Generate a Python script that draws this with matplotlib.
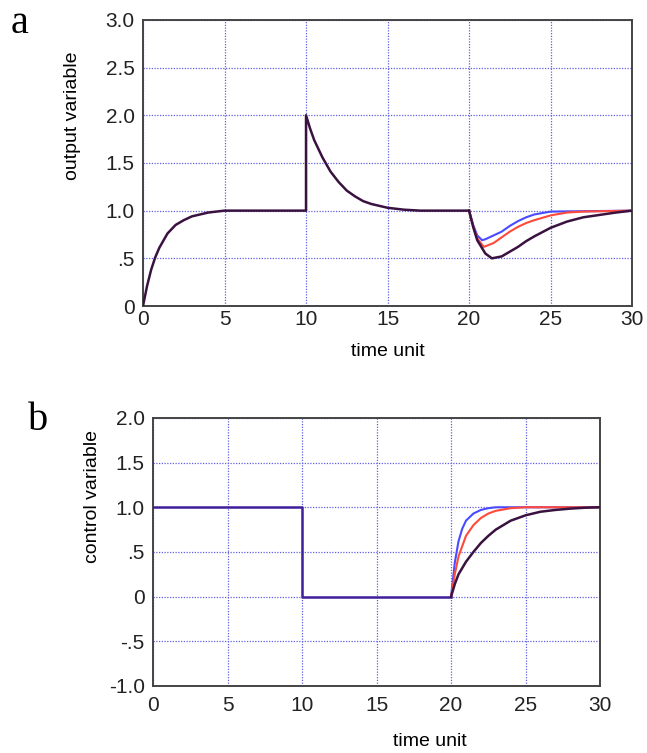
import matplotlib.pyplot as plt

# --- a: output variable (shared part, then three responses after t=20)
t_common = [0, 0.25, 0.5, 0.75, 1, 1.5, 2, 2.5, 3, 3.5, 4, 5, 10,
            10, 10.25, 10.5, 11, 11.5, 12, 12.5, 13, 13.5, 14, 15, 16, 17, 20]
y_common = [0, 0.21, 0.38, 0.51, 0.61, 0.76, 0.85, 0.90, 0.94, 0.96, 0.98, 1.0, 1.0,
            2.0, 1.86, 1.74, 1.56, 1.41, 1.30, 1.21, 1.15, 1.10, 1.07, 1.03, 1.01, 1.0, 1.0]

t_out_blue = [20, 20.25, 20.5, 20.8, 21, 21.5, 22, 22.5, 23, 23.5, 24, 25, 30]
y_out_blue = [1.0, 0.85, 0.74, 0.69, 0.70, 0.74, 0.78, 0.84, 0.89, 0.93, 0.96, 0.99, 1.0]
t_out_red = [20, 20.25, 20.5, 20.9, 21.5, 22, 22.5, 23, 23.5, 24, 25, 26, 27, 30]
y_out_red = [1.0, 0.84, 0.71, 0.62, 0.66, 0.72, 0.78, 0.83, 0.87, 0.90, 0.95, 0.98, 0.99, 1.0]
t_out_dark = [20, 20.25, 20.5, 21, 21.4, 22, 22.5, 23, 23.5, 24, 25, 26, 27, 28, 29, 30]
y_out_dark = [1.0, 0.83, 0.69, 0.55, 0.50, 0.52, 0.57, 0.62, 0.68, 0.73, 0.82, 0.885, 0.93, 0.955, 0.98, 1.0]

# --- b: control variable
t_ctl_common = [0, 10, 10, 20]
u_ctl_common = [1.0, 1.0, 0.0, 0.0]
t_ctl_blue = [20, 20.25, 20.5, 20.75, 21, 21.5, 22, 22.5, 23, 30]
u_ctl_blue = [0, 0.38, 0.62, 0.76, 0.85, 0.93, 0.97, 0.99, 1.0, 1.0]
t_ctl_red = [20, 20.25, 20.5, 21, 21.5, 22, 22.5, 23, 24, 25, 30]
u_ctl_red = [0, 0.25, 0.45, 0.68, 0.80, 0.88, 0.93, 0.96, 0.99, 1.0, 1.0]
t_ctl_dark = [20, 20.25, 20.5, 21, 21.5, 22, 22.5, 23, 24, 25, 26, 27, 28, 29, 30]
u_ctl_dark = [0, 0.14, 0.25, 0.39, 0.50, 0.60, 0.68, 0.75, 0.85, 0.91, 0.95, 0.97, 0.985, 0.995, 1.0]

xticks = [0, 5, 10, 15, 20, 25, 30]
yticks_a = [0, 0.5, 1.0, 1.5, 2.0, 2.5, 3.0]
ylabels_a = ["0", ".5", "1.0", "1.5", "2.0", "2.5", "3.0"]
yticks_b = [-1.0, -0.5, 0, 0.5, 1.0, 1.5, 2.0]
ylabels_b = ["-1.0", "-.5", "0", ".5", "1.0", "1.5", "2.0"]

BLUE = "#4a4aff"
RED = "#ff4a3a"
DARK = "#3a1240"
GRID = "#6060e0"

plt.rcParams["font.family"] = ["Liberation Sans", "DejaVu Sans"]

fig = plt.figure(figsize=(6.47, 7.53), dpi=100)
ax1 = fig.add_axes([0.221, 0.5936, 0.756, 0.380])
ax2 = fig.add_axes([0.2365, 0.089, 0.691, 0.356])


def style(ax, yt, yl, ylim):
    ax.set_xlim(0, 30)
    ax.set_ylim(*ylim)
    ax.set_xticks(xticks)
    ax.set_xticklabels([str(v) for v in xticks])
    ax.set_yticks(yt)
    ax.set_yticklabels(yl)
    ax.tick_params(length=0, labelsize=15, colors="#222222")
    ax.grid(True, color=GRID, linestyle=(0, (1, 1.2)), linewidth=0.9)
    for s in ax.spines.values():
        s.set_color("#444444")
        s.set_linewidth(1.4)


# panel a
ax1.plot(t_common, y_common, color=DARK, lw=1.8, zorder=4)
ax1.plot(t_out_blue, y_out_blue, color=BLUE, lw=1.5, zorder=3)
ax1.plot(t_out_red, y_out_red, color=RED, lw=1.5, zorder=3)
ax1.plot(t_out_dark, y_out_dark, color=DARK, lw=1.8, zorder=4)
style(ax1, yticks_a, ylabels_a, (0, 3.0))
ax1.tick_params(axis="x", pad=3)
ax1.tick_params(axis="y", pad=6)
ax1.set_xlabel("time unit", fontsize=14, labelpad=10)
ax1.set_ylabel("output variable", fontsize=14, va="center")
ax1.yaxis.set_label_coords(-0.145, 0.664)

# panel b
ax2.plot(t_ctl_common, u_ctl_common, color="#40209a", lw=1.8, zorder=4)
ax2.plot(t_ctl_blue, u_ctl_blue, color=BLUE, lw=1.5, zorder=3)
ax2.plot(t_ctl_red, u_ctl_red, color=RED, lw=1.5, zorder=3)
ax2.plot(t_ctl_dark, u_ctl_dark, color=DARK, lw=1.8, zorder=4)
style(ax2, yticks_b, ylabels_b, (-1.0, 2.0))
ax2.tick_params(axis="x", pad=7)
ax2.tick_params(axis="y", pad=6)
ax2.set_ylabel("control variable", fontsize=14, va="center")
ax2.yaxis.set_label_coords(-0.136, 0.705)
fig.text(430 / 647, 1 - 742 / 753, "time unit", fontsize=14, ha="center", va="center")

fig.text(11 / 647, 1 - 33 / 753, "a", family="Liberation Serif", fontsize=29, ha="left", va="baseline")
fig.text(28 / 647, 1 - 430 / 753, "b", family="Liberation Serif", fontsize=29, ha="left", va="baseline")

fig.savefig("out.png", dpi=100)
